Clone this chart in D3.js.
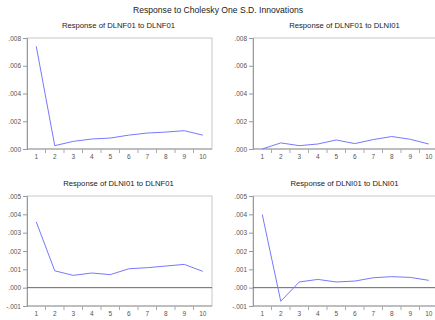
<!DOCTYPE html>
<html>
<head>
<meta charset="utf-8">
<script src="https://cdn.jsdelivr.net/npm/d3@7"></script>
<style>
  body { margin: 0; background: #fff; }
  svg { display: block; font-family: 'Liberation Sans', Arial, sans-serif; }
</style>
</head>
<body>
<svg id="chart" width="435" height="320"></svg>
<script>
const periods = [1, 2, 3, 4, 5, 6, 7, 8, 9, 10];

// responses
const nfToNf = [0.0074, 0.00024, 0.00055, 0.00072, 0.00079, 0.00100, 0.00115, 0.00122, 0.00132, 0.00100];
const nfToNi = [0.0000, 0.00044, 0.00024, 0.00036, 0.00065, 0.00039, 0.00068, 0.00090, 0.00070, 0.00036];
const niToNf = [0.00359, 0.00092, 0.00067, 0.00080, 0.00071, 0.00103, 0.00109, 0.00118, 0.00127, 0.00089];
const niToNi = [0.00399, -0.00074, 0.00031, 0.00045, 0.00031, 0.00036, 0.00054, 0.00060, 0.00056, 0.00040];

const topTicks = [0, 0.002, 0.004, 0.006, 0.008];
const bottomTicks = [-0.001, 0, 0.001, 0.002, 0.003, 0.004, 0.005];

const panels = [
	{ title: 'Response of DLNF01 to DLNF01', values: nfToNf, ticks: topTicks, left: 27, top: 38, bottom: 149 },
	{ title: 'Response of DLNF01 to DLNI01', values: nfToNi, ticks: topTicks, left: 253, top: 38, bottom: 149 },
	{ title: 'Response of DLNI01 to DLNF01', values: niToNf, ticks: bottomTicks, left: 27, top: 196, bottom: 306 },
	{ title: 'Response of DLNI01 to DLNI01', values: niToNi, ticks: bottomTicks, left: 253, top: 196, bottom: 306 }
];

const svg = d3.select('#chart');
const plotWidth = 185;
const fmt = v => (v < 0 ? '-' : '') + d3.format('.3f')(Math.abs(v)).replace(/^0/, '');

svg.append('text')
	.attr('x', 218)
	.attr('y', 12.5)
	.attr('text-anchor', 'middle')
	.attr('font-size', '8.6px')
	.attr('fill', '#222')
	.text('Response to Cholesky One S.D. Innovations');

panels.forEach(p => {
	const g = svg.append('g');
	const x = d3.scalePoint().domain(periods).range([p.left, p.left + plotWidth]).padding(0.5);
	const y = d3.scaleLinear()
		.domain(d3.extent(p.ticks))
		.range([p.bottom, p.top]);
	const step = x.step();

	g.append('text')
		.attr('x', p.left + plotWidth / 2 - 1)
		.attr('y', p.top - 10)
		.attr('text-anchor', 'middle')
		.attr('font-size', '7.7px')
		.attr('fill', '#222')
		.text(p.title);

	// frame
	g.append('rect')
		.attr('x', p.left)
		.attr('y', p.top)
		.attr('width', plotWidth)
		.attr('height', p.bottom - p.top)
		.attr('fill', 'none')
		.attr('stroke', '#c8c8c8')
		.attr('stroke-width', 1);

	// y axis
	const yAxis = d3.axisLeft(y).tickValues(p.ticks).tickFormat(fmt).tickSize(4).tickPadding(2);
	g.append('g')
		.attr('transform', `translate(${p.left},0)`)
		.call(yAxis)
		.call(a => a.select('.domain').attr('stroke', '#999'))
		.call(a => a.selectAll('.tick line').attr('stroke', '#999'))
		.call(a => a.selectAll('.tick text').attr('font-size', '6.5px').attr('fill', '#555').attr('font-family', null));

	// x axis: ticks between periods, labels at periods
	const bounds = periods.slice(0, -1).map(d => x(d) + step / 2);
	g.append('line')
		.attr('x1', p.left).attr('x2', p.left + plotWidth)
		.attr('y1', p.bottom).attr('y2', p.bottom)
		.attr('stroke', '#999');
	g.selectAll('.xtick')
		.data(bounds)
		.enter().append('line')
		.attr('class', 'xtick')
		.attr('x1', d => d).attr('x2', d => d)
		.attr('y1', p.bottom).attr('y2', p.bottom + 4)
		.attr('stroke', '#aaa');
	g.selectAll('.xlabel')
		.data(periods)
		.enter().append('text')
		.attr('class', 'xlabel')
		.attr('x', d => x(d))
		.attr('y', p.bottom + 10)
		.attr('text-anchor', 'middle')
		.attr('font-size', '6.5px')
		.attr('fill', '#555')
		.text(d => d);

	// zero line
	if (y.domain()[0] < 0) {
		g.append('line')
			.attr('x1', p.left).attr('x2', p.left + plotWidth)
			.attr('y1', y(0)).attr('y2', y(0))
			.attr('stroke', '#666')
			.attr('stroke-width', 1);
	}

	const line = d3.line()
		.x((d, i) => x(periods[i]))
		.y(d => y(d));

	g.append('path')
		.datum(p.values)
		.attr('d', line)
		.attr('fill', 'none')
		.attr('stroke', '#7878ff')
		.attr('stroke-width', 1);
});
</script>
</body>
</html>
